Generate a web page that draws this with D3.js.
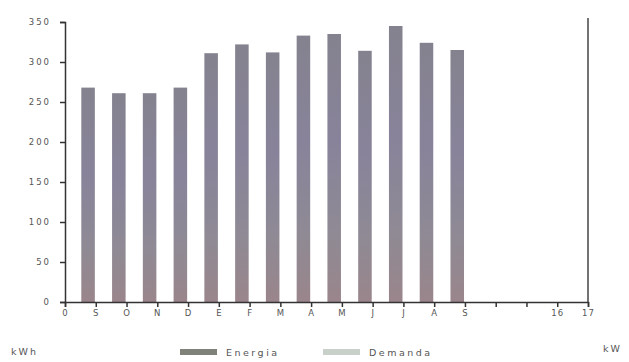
<!DOCTYPE html>
<html><head><meta charset="utf-8">
<script src="https://cdn.jsdelivr.net/npm/d3@7"></script>
<style>
body{margin:0;background:#fff;}
svg text{font-family:"DejaVu Sans",sans-serif;fill:#555;}
</style></head>
<body><svg id="c" width="629" height="362"></svg>
<script>
const positions = d3.range(0, 18);
const tickLabels = ["0","S","O","N","D","E","F","M","A","M","J","J","A","S","","","16","17"];
const barPositions = [1,2,3,4,5,6,7,8,9,10,11,12,13];
const energia = [268,261,261,268,311,322,312,333,335,314,345,324,315];
const yTicks = [0,50,100,150,200,250,300,350];
const seriesNames = ["Energia","Demanda"];

const svg = d3.select("#c");
const m = {l:65, r:41, t:20, b:60};
const W = 629, H = 362;
const x = d3.scaleLinear().domain([0,17]).range([m.l, W-m.r]);
const y = d3.scaleLinear().domain([0,350]).range([H-m.b, H-m.b-280]);

const defs = svg.append("defs");
const g = defs.append("linearGradient").attr("id","bg").attr("x1",0).attr("x2",0).attr("y1",0).attr("y2",1);
g.append("stop").attr("offset","0%").attr("stop-color","#85828f");
g.append("stop").attr("offset","40%").attr("stop-color","#88839a");
g.append("stop").attr("offset","75%").attr("stop-color","#8f8a94");
g.append("stop").attr("offset","100%").attr("stop-color","#9a858b");

const step = x(1)-x(0);
svg.append("g").selectAll("rect").data(energia).join("rect")
  .attr("x",(d,i)=>x(barPositions[i]) - step*0.47)
  .attr("width",step*0.44)
  .attr("y",d=>y(d))
  .attr("height",d=>y(0)-y(d))
  .attr("fill","url(#bg)");

// left axis
const ya = svg.append("g").attr("transform",`translate(${m.l},0)`)
  .call(d3.axisLeft(y).tickValues(yTicks).tickSize(5).tickPadding(9));
ya.selectAll("text").style("font-size","8.5px").attr("letter-spacing","2").attr("fill","#555");
ya.selectAll("line,path").attr("stroke","#333").attr("stroke-width",1.5);

// right axis line
svg.append("line").attr("x1",x(17)).attr("x2",x(17)).attr("y1",y(0)).attr("y2",y(355))
  .attr("stroke","#444").attr("stroke-width",1.5);

// bottom axis
const xa = svg.append("g").attr("transform",`translate(0,${y(0)})`)
  .call(d3.axisBottom(x).tickValues(positions).tickFormat((d,i)=>tickLabels[i]).tickSize(5).tickPadding(3));
xa.selectAll("text").style("font-size","8.5px").attr("letter-spacing","1").attr("fill","#555");
xa.selectAll("line,path").attr("stroke","#333").attr("stroke-width",1.5);

// units
svg.append("text").attr("x",11).attr("y",355).text("kWh").style("font-size","9.5px").attr("letter-spacing","2").attr("fill","#444");
svg.append("text").attr("x",603).attr("y",352).text("kW").style("font-size","9.5px").attr("letter-spacing","2").attr("fill","#444");

// legend
const legendColors = ["#7e8279","#c9d0ca"];
const lx = [180, 323];
const lg = svg.append("g");
seriesNames.forEach((s,i)=>{
  lg.append("rect").attr("x",lx[i]).attr("y",349).attr("width",37).attr("height",6).attr("fill",legendColors[i]);
  lg.append("text").attr("x",lx[i]+46).attr("y",356).text(s).style("font-size","9.5px").attr("letter-spacing","2.5").attr("fill","#555");
});
</script></body></html>
